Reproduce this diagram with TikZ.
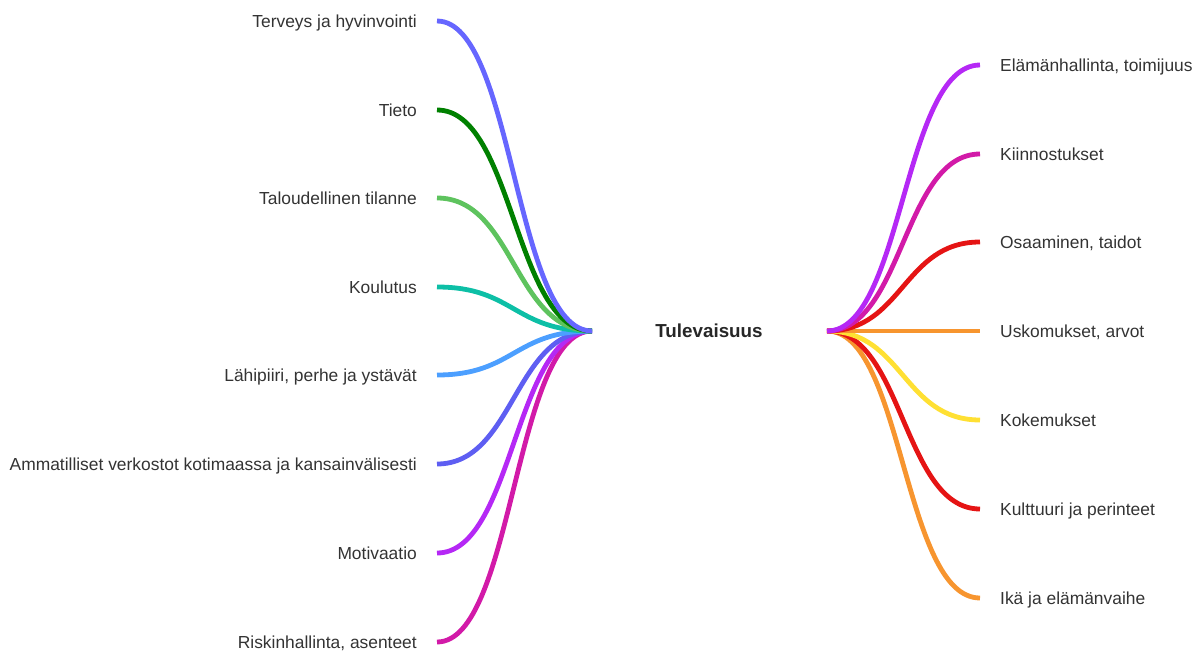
\documentclass[tikz,border=0pt]{standalone}
\usepackage{fontspec}
\setmainfont{Liberation Sans}
\usepackage{xcolor}

\definecolor{cViolet}{HTML}{6666FF}
\definecolor{cGreen}{HTML}{008000}
\definecolor{cLightGreen}{HTML}{5EC35E}
\definecolor{cTeal}{HTML}{0DBFA6}
\definecolor{cSky}{HTML}{4C9FFF}
\definecolor{cBlue}{HTML}{5E5EF2}
\definecolor{cPurple}{HTML}{B528F5}
\definecolor{cMagenta}{HTML}{D21AA8}
\definecolor{cRed}{HTML}{E51414}
\definecolor{cOrange}{HTML}{F7952F}
\definecolor{cYellow}{HTML}{FFE033}
\definecolor{cText}{HTML}{333333}

\tikzset{
  branch/.style={line width=4.8pt, line cap=butt},
  leftlabel/.style={anchor=east, inner xsep=20pt, inner ysep=0pt, text=cText,
    text depth=0pt, font=\fontsize{17.4}{20}\selectfont},
  rightlabel/.style={anchor=west, inner xsep=20pt, inner ysep=0pt, text=cText,
    text depth=0pt, font=\fontsize{17.4}{20}\selectfont},
}

\begin{document}
\begin{tikzpicture}[x=1pt,y=-1pt]
\useasboundingbox (0,0) rectangle (1195,651);

% centre
\node[font=\bfseries\fontsize{18.8}{22}\selectfont, text=black!85] (future) at (709,331) {Tulevaisuus};
\coordinate (rootL) at (592,331);
\coordinate (rootR) at (827,331);

% left side
\node[leftlabel] (health)  at (437,21)  {Terveys ja hyvinvointi};
\node[leftlabel] (know)    at (437,110) {Tieto};
\node[leftlabel] (money)   at (437,198) {Taloudellinen tilanne};
\node[leftlabel] (school)  at (437,287) {Koulutus};
\node[leftlabel] (family)  at (437,375) {Lähipiiri, perhe ja ystävät};
\node[leftlabel] (network) at (437,464) {Ammatilliset verkostot kotimaassa ja kansainvälisesti};
\node[leftlabel] (motive)  at (437,553) {Motivaatio};
\node[leftlabel] (risk)    at (437,642) {Riskinhallinta, asenteet};

% right side
\node[rightlabel] (life)    at (980,65)  {Elämänhallinta, toimijuus};
\node[rightlabel] (interest) at (980,154) {Kiinnostukset};
\node[rightlabel] (skill)   at (980,242) {Osaaminen, taidot};
\node[rightlabel] (belief)  at (980,331) {Uskomukset, arvot};
\node[rightlabel] (exper)   at (980,420) {Kokemukset};
\node[rightlabel] (culture) at (980,509) {Kulttuuri ja perinteet};
\node[rightlabel] (age)     at (980,598) {Ikä ja elämänvaihe};

% branches left
\draw[branch, cMagenta] (rootL) .. controls (514,331) and (514,642) .. (risk.east);
\draw[branch, cPurple] (rootL) .. controls (514,331) and (514,553) .. (motive.east);
\draw[branch, cBlue] (rootL) .. controls (514,331) and (514,464) .. (network.east);
\draw[branch, cSky] (rootL) .. controls (514,331) and (514,375) .. (family.east);
\draw[branch, cTeal] (rootL) .. controls (514,331) and (514,287) .. (school.east);
\draw[branch, cLightGreen] (rootL) .. controls (514,331) and (514,198) .. (money.east);
\draw[branch, cGreen] (rootL) .. controls (514,331) and (514,110) .. (know.east);
\draw[branch, cViolet] (rootL) .. controls (514,331) and (514,21) .. (health.east);

% branches right
\draw[branch, cOrange] (rootR) .. controls (903,331) and (903,598) .. (age.west);
\draw[branch, cRed] (rootR) .. controls (903,331) and (903,509) .. (culture.west);
\draw[branch, cYellow] (rootR) .. controls (903,331) and (903,420) .. (exper.west);
\draw[branch, cOrange] (rootR) -- (belief.west);
\draw[branch, cRed] (rootR) .. controls (903,331) and (903,242) .. (skill.west);
\draw[branch, cMagenta] (rootR) .. controls (903,331) and (903,154) .. (interest.west);
\draw[branch, cPurple] (rootR) .. controls (903,331) and (903,65) .. (life.west);
\end{tikzpicture}
\end{document}
